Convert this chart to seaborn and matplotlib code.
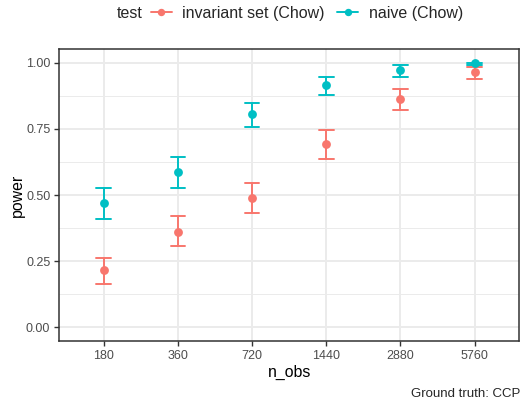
import numpy as np
import pandas as pd
import matplotlib
matplotlib.use("Agg")
import matplotlib.pyplot as plt
from matplotlib.lines import Line2D
from matplotlib.ticker import MultipleLocator
import seaborn as sns

n_obs = ["180", "360", "720", "1440", "2880", "5760"]
tests = ["invariant set (Chow)", "naive (Chow)"]

# power estimate with lower / upper confidence bounds
inv_mid = [0.215, 0.361, 0.488, 0.692, 0.864, 0.965]
inv_lo = [0.164, 0.308, 0.431, 0.635, 0.820, 0.936]
inv_hi = [0.262, 0.419, 0.547, 0.745, 0.902, 0.984]
naive_mid = [0.468, 0.585, 0.805, 0.914, 0.971, 0.998]
naive_lo = [0.411, 0.526, 0.755, 0.877, 0.944, 0.990]
naive_hi = [0.528, 0.642, 0.849, 0.944, 0.989, 1.000]

colors = ["#F8766D", "#00BFC4"]

# long table: three rows per point so median = estimate and min/max = interval
rows = []
for test, lo, mid, hi in [(tests[0], inv_lo, inv_mid, inv_hi),
                          (tests[1], naive_lo, naive_mid, naive_hi)]:
    for i, n in enumerate(n_obs):
        for v in (lo[i], mid[i], hi[i]):
            rows.append({"n_obs": n, "test": test, "power": v})
df = pd.DataFrame(rows)

sns.set_theme(style="white")
plt.rcParams["font.family"] = ["Liberation Sans", "DejaVu Sans"]

fig = plt.figure(figsize=(5.21, 4.0), dpi=100)
ax = fig.add_axes([59.3 / 521, 1 - 340.7 / 400, (519 - 59.3) / 521, (340.7 - 49.3) / 400])

sns.pointplot(data=df, x="n_obs", y="power", hue="test", order=n_obs, hue_order=tests,
              palette=colors, estimator="median", errorbar=("pi", 100),
              capsize=0.2, linestyle="none", markers="o", markersize=4.3,
              err_kws={"linewidth": 1.4}, dodge=False, ax=ax, zorder=3)
ax.get_legend().remove()

ax.set_xlim(-0.6, 5.6)
ax.set_ylim(-0.05, 1.05)
ax.set_yticks([0, 0.25, 0.5, 0.75, 1.0])
ax.set_yticklabels(["0.00", "0.25", "0.50", "0.75", "1.00"])
ax.yaxis.set_minor_locator(MultipleLocator(0.125))

ax.set_axisbelow(True)
ax.grid(True, which="major", color="#EBEBEB", linewidth=1.4)
ax.yaxis.grid(True, which="minor", color="#EBEBEB", linewidth=0.7)
ax.xaxis.grid(True, which="major", color="#EBEBEB", linewidth=1.4)

for s in ax.spines.values():
    s.set_color("#333333")
    s.set_linewidth(1.1)

ax.tick_params(axis="both", which="major", length=3.5, width=1, color="#333333",
               labelsize=9, labelcolor="#4D4D4D", pad=3)
ax.tick_params(axis="y", which="minor", length=0)
ax.tick_params(axis="both", left=True, bottom=True)

ax.set_xlabel("n_obs", fontsize=11.4, color="black", labelpad=2)
ax.set_ylabel("power", fontsize=11.4, color="black", labelpad=1)

# legend on top
fig.text(116.7 / 521, 1 - 13.3 / 400, "test", fontsize=11.5, ha="left", va="center")
handles = [Line2D([0], [0], color=c, marker="o", markersize=4.3, linewidth=1.4) for c in colors]
fig.legend(handles, tests, loc="center left", bbox_to_anchor=(151 / 521, 1 - 13.3 / 400),
           ncol=2, frameon=False, fontsize=11.5, handlelength=1.3, handletextpad=0.65,
           columnspacing=0.8, borderpad=0, borderaxespad=0)

fig.text(520 / 521, 1 - 394 / 400, "Ground truth: CCP", fontsize=9.5, ha="right", va="center")

fig.savefig("out.png", dpi=100)
